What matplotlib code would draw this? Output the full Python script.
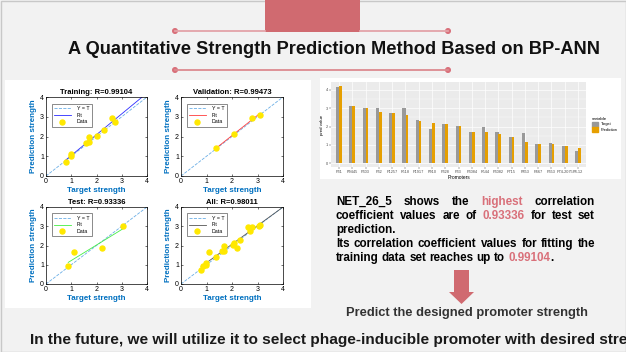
import numpy as np
import matplotlib
matplotlib.use('Agg')
import matplotlib.pyplot as plt
from matplotlib.patches import Rectangle, Polygon, Circle, Patch

plt.rcParams['font.family'] = ['Liberation Sans', 'DejaVu Sans']

W, H = 626, 352

# ******************************
## Data
# ******************************
train_t = [0.79, 0.99, 0.99, 1.60, 1.69, 1.69, 2.02, 2.31, 2.63, 2.72]
train_p = [0.73, 1.10, 1.01, 1.69, 1.70, 1.97, 2.03, 2.31, 2.95, 2.73]
val_t = [1.39, 2.09, 2.78, 3.09]
val_p = [1.42, 2.11, 2.95, 3.09]
test_t = [0.88, 1.10, 2.20, 3.04]
test_p = [0.93, 1.65, 1.87, 3.02]

promoters = ['P31', 'P9445', 'P303', 'P32', 'P1257', 'P518', 'P1917', 'P910',
             'P328', 'P33', 'P3084', 'P544', 'P3082', 'P715', 'P853', 'P467',
             'P353', 'P74-2075', 'P8-12']
target = [4.18, 3.12, 3.01, 3.01, 2.76, 3.01, 2.34, 1.84, 2.12, 2.03, 1.72,
          1.95, 1.68, 1.42, 1.63, 1.02, 1.08, 0.91, 0.69]
prediction = [4.22, 3.12, 3.01, 2.81, 2.72, 2.61, 2.30, 2.21, 2.12, 2.01, 1.72,
              1.72, 1.61, 1.42, 1.13, 1.02, 1.02, 0.91, 0.82]

red = '#d06a70'
pink = '#d9707a'

fig = plt.figure(figsize=(W / 100, H / 100), dpi=100, facecolor='#f2f2f2')
renderer = fig.canvas.get_renderer()

# background axes in pixel coords (y down)
bg = fig.add_axes([0, 0, 1, 1])
bg.set_xlim(0, W)
bg.set_ylim(H, 0)
bg.axis('off')

def px_axes(x, y, w, h):
    return fig.add_axes([x / W, 1 - (y + h) / H, w / W, h / H])

# slide frame + top decoration
bg.add_patch(Rectangle((0.5, 0.5), W - 1, H - 1, fill=False, ec='#c8c8c8', lw=1))
bg.add_patch(Rectangle((265, 0), 95, 32, color=red, lw=0))
bg.plot([175, 265], [31, 31], color='#e3a3a8', lw=1.3)
bg.plot([360, 448], [31, 31], color='#e3a3a8', lw=1.3)
bg.plot([175, 448], [70, 70], color='#dc8a90', lw=1.3)
for cx, cy in [(175, 31), (448, 31), (175, 70), (448, 70)]:
    bg.add_patch(Circle((cx, cy), 2.3, color=pink))

def fit_width(t, width):
    w = t.get_window_extent(renderer).width
    t.set_fontsize(t.get_fontsize() * width / w)

title = bg.text(68, 50, 'A Quantitative Strength Prediction Method Based on BP-ANN',
                fontsize=13, fontweight='bold', va='center', ha='left', color='#111111')
fit_width(title, 530)

# white panels
bg.add_patch(Rectangle((5, 80), 306, 228, color='white', lw=0))
bg.add_patch(Rectangle((320, 78), 301, 101, color='white', lw=0))

# ******************************
## Regression plots
# ******************************
def reg_plot(ax, x, y, name, fitcolor, to_edge):
    x = np.array(x)
    y = np.array(y)
    ax.plot([0, 4], [0, 4], '--', color='#6aaee6', lw=0.6, label='Y = T')
    p = np.polyfit(x, y, 1)
    xs = np.array([x.min(), 4 if to_edge else x.max()])
    ax.plot(xs, np.polyval(p, xs), color=fitcolor, lw=0.6, label='Fit')
    ax.plot(x, y, 'o', color='#ffe800', ms=3.6, mec='#ffe800', label='Data')
    ax.set_xlim(0, 4)
    ax.set_ylim(0, 4)
    ax.set_xticks([0, 1, 2, 3, 4])
    ax.set_yticks([0, 1, 2, 3, 4])
    ax.tick_params(direction='in', length=1.5, width=0.4, labelsize=5, pad=1.5,
                   top=True, right=True)
    for s in ax.spines.values():
        s.set_linewidth(0.5)
    ax.set_title(name, fontsize=5.5, fontweight='bold', pad=2)
    ax.set_xlabel('Target strength', fontsize=5.8, fontweight='bold', color='#0070c0', labelpad=1.5)
    ax.set_ylabel('Prediction strength', fontsize=5.8, fontweight='bold', color='#0070c0', labelpad=2)
    leg = ax.legend(loc='upper left', fontsize=3.8, handlelength=3.2, borderpad=0.4,
                    labelspacing=0.35, fancybox=False, edgecolor='#333333',
                    bbox_to_anchor=(0.03, 0.95), handletextpad=1.2)
    leg.get_frame().set_linewidth(0.5)

all_t = train_t + val_t + test_t
all_p = train_p + val_p + test_p

reg_plot(px_axes(46, 97, 101, 79), train_t, train_p, 'Training: R=0.99104', '#2b2bff', True)
reg_plot(px_axes(181, 97, 102, 79), val_t, val_p, 'Validation: R=0.99473', '#ff3b3b', False)
reg_plot(px_axes(46, 207, 101, 77), test_t, test_p, 'Test: R=0.93336', '#44ee44', False)
reg_plot(px_axes(181, 207, 102, 77), all_t, all_p, 'All: R=0.98011', '#555555', True)

# ******************************
## Bar chart (ggplot look)
# ******************************
axb = px_axes(331, 82, 255, 85)
axb.set_facecolor('#ebebeb')
xi = np.arange(len(promoters))
axb.bar(xi - 0.1, target, width=0.24, color='#999999', zorder=2)
axb.bar(xi + 0.11, prediction, width=0.2, color='#e69f00', zorder=3)
axb.set_xlim(-0.6, len(promoters) - 0.4)
axb.set_ylim(-0.21, 4.43)
axb.set_xticks(xi)
axb.set_xticklabels(promoters)
axb.set_yticks([0, 1, 2, 3, 4])
axb.set_yticks([0.5, 1.5, 2.5, 3.5], minor=True)
axb.grid(True, which='major', color='white', lw=0.5, zorder=0)
axb.grid(True, which='minor', axis='y', color='white', lw=0.25, zorder=0)
axb.tick_params(which='major', length=1.2, width=0.3, color='#333333',
                labelsize=2.8, labelcolor='#4d4d4d', pad=1)
axb.tick_params(which='minor', length=0)
for s in axb.spines.values():
    s.set_visible(False)
axb.set_xlabel('Promoters', fontsize=3.5, labelpad=1)
axb.set_ylabel('pred value', fontsize=3.2, labelpad=1)
axb.legend([Patch(color='#999999'), Patch(color='#e69f00')], ['Target', 'Prediction'],
           title='variable', loc='center left', bbox_to_anchor=(1.01, 0.5),
           frameon=False, fontsize=2.8, title_fontsize=3.2, handlelength=1.6,
           handleheight=1.6, labelspacing=0.15, handletextpad=0.6, alignment='left')

# ******************************
## Text block (justified)
# ******************************
para = [
    ([('NET_26_5', 'k'), ('shows', 'k'), ('the', 'k'), ('highest', pink), ('correlation', 'k')], 201.5, True),
    ([('coefficient', 'k'), ('values', 'k'), ('are', 'k'), ('of', 'k'), ('0.93336', pink),
      ('for', 'k'), ('test', 'k'), ('set', 'k')], 215.5, True),
    ([('prediction.', 'k')], 229.5, False),
    ([('Its', 'k'), ('correlation', 'k'), ('coefficient', 'k'), ('values', 'k'), ('for', 'k'),
      ('fitting', 'k'), ('the', 'k')], 243.5, True),
    ([('training', 'k'), ('data', 'k'), ('set', 'k'), ('reaches', 'k'), ('up', 'k'), ('to', 'k'),
      ('0.99104', pink), ('.', 'k')], 257.5, False),
]
x_left, x_right = 336, 595

probe = bg.text(0, 0, 'training data set reaches up to 0.99104.', fontsize=8, fontweight='bold')
fit_width(probe, 218)
psize = probe.get_fontsize()
probe.remove()
space = 0.28 * psize * 100 / 72

for words, y, justify in para:
    ts = [bg.text(0, y + 3.2, w, color=c, fontsize=psize, fontweight='bold',
                  va='baseline', ha='left') for w, c in words]
    ws = [t.get_window_extent(renderer).width for t in ts]
    glue = [w == '.' for w, c in words]
    ngaps = sum(1 for g in glue[1:] if not g)
    gap = (x_right - x_left - sum(ws)) / ngaps if justify else space
    x = x_left
    for i, t in enumerate(ts):
        if i > 0 and not glue[i]:
            x += gap
        t.set_x(x)
        x += ws[i]

# arrow
bg.add_patch(Polygon([(454, 270), (469, 270), (469, 292), (474, 292), (461.5, 304),
                      (449, 292), (454, 292)], closed=True, color=red, lw=0))

pr = bg.text(466.5, 313, 'Predict the designed promoter strength', fontsize=7,
             fontweight='bold', color='#333333', ha='center', va='center')
fit_width(pr, 243)

# bottom sentence runs off the slide edge, like in the original
bottom = bg.text(30, 340, 'In the future, we will utilize it to select phage-inducible promoter with desired stre',
                 fontsize=11, fontweight='bold', color='#1a1a1a', ha='left', va='center')
fit_width(bottom, 598)
bottom.set_text('In the future, we will utilize it to select phage-inducible promoter with desired strength.')

fig.savefig('out.png', dpi=100, facecolor=fig.get_facecolor())
